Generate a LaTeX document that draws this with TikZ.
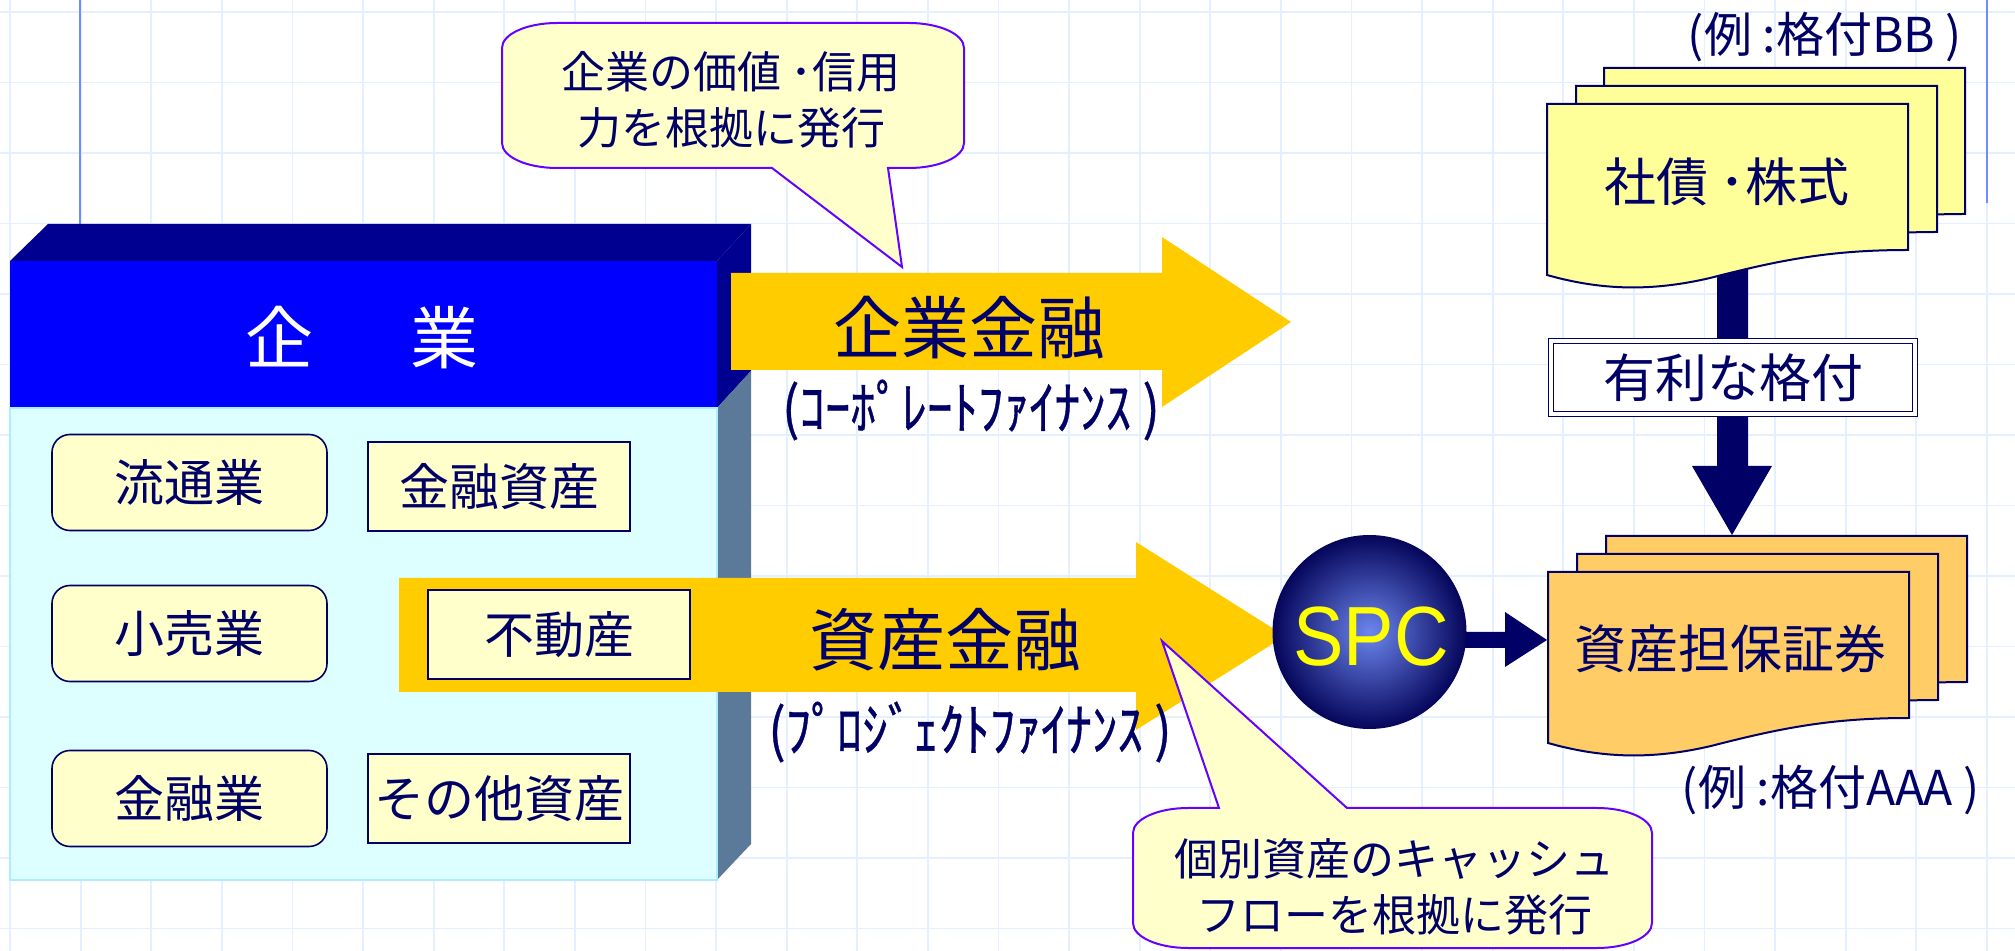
\documentclass[tikz,border=0pt]{standalone}
\usepackage{fontspec}
\setmainfont{Noto Sans CJK JP}
\newfontfamily\spcfont[FakeStretch=0.9]{Liberation Sans}
\newfontfamily\kanafont[FakeStretch=0.88,FakeBold=0.6]{Noto Sans CJK JP}
\definecolor{gridc}{RGB}{228,240,255}
\definecolor{bline}{RGB}{110,140,255}
\definecolor{navytext}{RGB}{0,0,102}
\definecolor{topface}{RGB}{0,0,144}
\definecolor{header}{RGB}{0,0,255}
\definecolor{bodyc}{RGB}{221,255,255}
\definecolor{bodyborder}{RGB}{170,238,255}
\definecolor{slate}{RGB}{91,122,153}
\definecolor{subfill}{RGB}{255,255,204}
\definecolor{arrowy}{RGB}{255,204,0}
\definecolor{calloutb}{RGB}{102,0,255}
\definecolor{docy}{RGB}{255,255,153}
\definecolor{doco}{RGB}{255,204,102}
\definecolor{spcin}{RGB}{108,134,238}
\definecolor{spcout}{RGB}{5,5,90}
\definecolor{spctext}{RGB}{255,255,0}
\newcommand\docpage[3]{\begin{scope}[shift={(#1,#2)}]
  \filldraw[fill=#3,draw=navytext,line width=1pt] (0,0) -- (361,0) -- (361,146)
    .. controls (283,146) and (233,156) .. (163,174)
    .. controls (103,188) and (53,186) .. (0,171) -- cycle;
  \end{scope}}
\begin{document}
\begin{tikzpicture}[x=0.5pt,y=-0.5pt,
  subr/.style={draw=navytext,line width=0.8pt,fill=subfill,rounded corners=9pt,minimum width=137.5pt,minimum height=48pt,inner sep=0pt,text=navytext,font=\fontsize{25pt}{30pt}\selectfont},
  subq/.style={draw=navytext,line width=0.8pt,fill=subfill,minimum width=131pt,minimum height=44.5pt,inner sep=0pt,text=navytext,font=\fontsize{25pt}{30pt}\selectfont},
  bigtxt/.style={text=navytext,inner sep=0pt,font=\fontsize{34pt}{40pt}\selectfont},
  kanatxt/.style={text=navytext,inner sep=0pt,font=\kanafont\fontsize{29pt}{32pt}\selectfont},
  calltxt/.style={text=navytext,inner sep=0pt,align=center,font=\fontsize{22pt}{28pt}\selectfont},
  doctxt/.style={text=navytext,inner sep=0pt,font=\fontsize{26pt}{30pt}\selectfont},
  extxt/.style={text=navytext,inner sep=0pt,font=\fontsize{24pt}{30pt}\selectfont},
  callout/.style={fill=subfill,draw=calloutb,line width=1pt},
  ratebox/.style={draw=navytext,double=white,double distance=1.6pt,line width=0.8pt,fill=white,minimum width=182pt,minimum height=36.5pt,inner sep=0pt,text=navytext,font=\fontsize{26pt}{30pt}\selectfont}]
\useasboundingbox (0,0) rectangle (2015,951);
\fill[white] (0,0) rectangle (2015,951);
% grid
\foreach \i in {0,...,28} \draw[gridc,line width=0.9pt] ({10+70.6*\i},0) -- ({10+70.6*\i},951);
\foreach \j in {0,...,13} \draw[gridc,line width=0.9pt] (0,{12+70.5*\j}) -- (2015,{12+70.5*\j});
\draw[bline,line width=1pt] (80,0) -- (80,224);
\draw[bline,line width=1pt] (1987,0) -- (1987,203);
% company box
\fill[topface] (10,261) -- (48,224) -- (751,224) -- (717,261) -- cycle;
\fill[topface] (717,261) -- (751,224) -- (751,371) -- (717,408) -- cycle;
\fill[slate] (717,408) -- (751,371) -- (751,844) -- (717,880) -- cycle;
\fill[header] (10,261) rectangle (717,408);
\filldraw[fill=bodyc,draw=bodyborder,line width=1pt] (10,408) rectangle (717,880);
\node[text=white,inner sep=0pt,font=\fontsize{34pt}{40pt}\selectfont] (corp) at (362,338) {企\hspace{1.43em}業};
\node[subr] (ryutsu) at (189.5,482.5) {流通業};
\node[subr] (kouri) at (189.5,633.5) {小売業};
\node[subr] (kinyugyo) at (189.5,798.5) {金融業};
\node[subq] (kinshi) at (499,486.5) {金融資産};
\node[subq] (sonota) at (499,798.5) {その他資産};
% yellow arrows
\fill[arrowy] (731,273) -- (1162,273) -- (1162,237) -- (1291,322) -- (1162,407) -- (1162,370) -- (731,370) -- cycle;
\fill[arrowy] (399,578) -- (1136,578) -- (1136,542) -- (1285,636) -- (1136,730) -- (1136,692) -- (399,692) -- cycle;
\node[subq] (fudosan) at (559,634.5) {不動産};
\node[bigtxt] (cf) at (969,328) {企業金融};
\node[kanatxt] (cfsub) at (971,410) {(ｺｰﾎﾟﾚｰﾄﾌｧｲﾅﾝｽ )};
\node[bigtxt] (af) at (945,640) {資産金融};
\node[kanatxt] (afsub) at (970,732) {(ﾌﾟﾛｼﾞｪｸﾄﾌｧｲﾅﾝｽ )};
% callouts
\filldraw[callout] (557,23) -- (909,23) .. controls (939,23) and (964,34) .. (964,48) -- (964,143)
  .. controls (964,157) and (939,168) .. (909,168) -- (888,168) -- (902,267) -- (772,168) -- (557,168)
  .. controls (527,168) and (502,157) .. (502,143) -- (502,48) .. controls (502,34) and (527,23) .. (557,23) -- cycle;
\node[calltxt] (call1) at (731,100) {企業の価値 ･信用\\力を根拠に発行};
\filldraw[callout] (1188,808) -- (1219,808) -- (1162,641) -- (1347,808) -- (1597,808)
  .. controls (1627,808) and (1652,819) .. (1652,833) -- (1652,923)
  .. controls (1652,937) and (1627,948) .. (1597,948) -- (1188,948)
  .. controls (1158,948) and (1133,937) .. (1133,923) -- (1133,833)
  .. controls (1133,819) and (1158,808) .. (1188,808) -- cycle;
\node[calltxt] (call2) at (1394,887) {個別資産のキャッシュ\\フローを根拠に発行};
% rating arrow
\fill[navytext] (1717,260) -- (1748,260) -- (1748,466) -- (1772,466) -- (1732,535) -- (1692,466) -- (1717,466) -- cycle;
% document stacks
\docpage{1604}{68}{docy}
\docpage{1576}{86}{docy}
\docpage{1547}{104}{docy}
\docpage{1606}{536}{doco}
\docpage{1577}{554}{doco}
\docpage{1548}{572}{doco}
\node[doctxt] (bonds) at (1727,182) {社債 ･株式};
\node[doctxt] (abs) at (1730,649) {資産担保証券};
\node[extxt] (exbb) at (1825,37) {(例 :格付BB )};
\node[extxt] (exaaa) at (1831,790) {(例 :格付AAA )};
\node[ratebox] (rate) at (1733,377.5) {有利な格付};
% SPC
\fill[navytext] (1440,632) -- (1505,632) -- (1505,612) -- (1547,640) -- (1505,667) -- (1505,648) -- (1440,648) -- cycle;
\node[circle,minimum size=97pt,inner sep=0pt,inner color=spcin,outer color=spcout] (spc) at (1369.5,632) {};
\node[text=spctext,inner sep=0pt,font=\spcfont\fontsize{42pt}{42pt}\selectfont] (spct) at (1371,637) {SPC};
\end{tikzpicture}
\end{document}
